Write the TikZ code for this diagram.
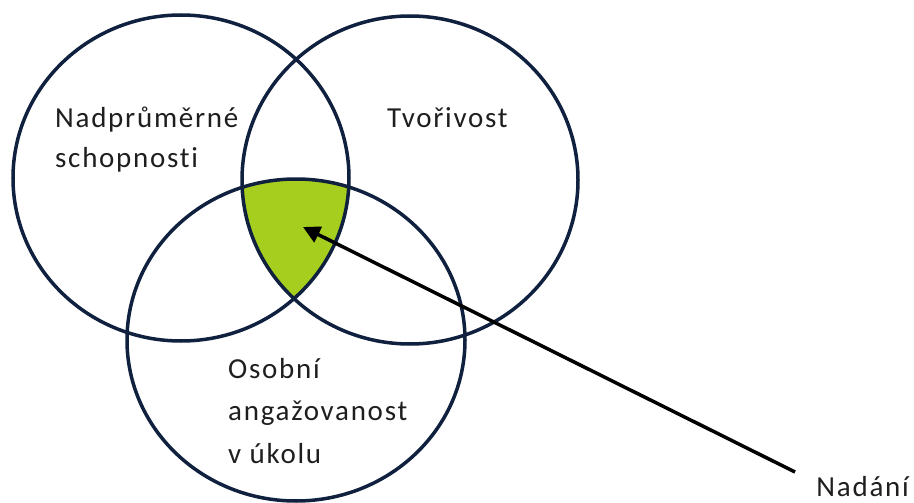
\documentclass[tikz,border=0pt]{standalone}
\usepackage{fontspec}
\setmainfont{Carlito}[LetterSpace=6, Ligatures=NoCommon]
\usetikzlibrary{arrows.meta}
\definecolor{ringblue}{RGB}{16,33,63}
\definecolor{giftgreen}{RGB}{166,206,30}
\definecolor{inkgray}{RGB}{30,30,30}
\tikzset{
  ring/.style={draw=ringblue, line width=3.5pt},
  vtext/.style={anchor=base west, inner sep=0pt, font=\fontsize{29}{40}\selectfont, text=inkgray},
  pointer/.style={draw=black, line width=3.5pt, -{Triangle[length=17pt,width=17pt]}}
}
\begin{document}
\begin{tikzpicture}[x=1pt,y=-1pt]
\useasboundingbox (0,0) rectangle (914,503);
\coordinate (cL) at (181,178);
\coordinate (cR) at (410,180);
\coordinate (cB) at (296,340);
\begin{scope}
  \clip (cL) ellipse [x radius=168pt, y radius=163pt];
  \clip (cR) ellipse [x radius=168pt, y radius=164pt];
  \fill[giftgreen] (cB) ellipse [x radius=169pt, y radius=161pt];
\end{scope}
\draw[ring] (cL) ellipse [x radius=168pt, y radius=163pt];
\draw[ring] (cR) ellipse [x radius=168pt, y radius=164pt];
\draw[ring] (cB) ellipse [x radius=169pt, y radius=161pt];
\node[vtext] (abil1) at (55,128) {Nadprůměrné};
\node[vtext] (abil2) at (55,167) {schopnosti};
\node[vtext] (creat) at (387,128) {Tvořivost};
\node[vtext] (task1) at (228,378) {Osobní};
\node[vtext] (task2) at (228,420) {angažovanost};
\node[vtext] (task3) at (228,463) {v úkolu};
\node[vtext, anchor=base east] (gift) at (909,496) {Nadání};
\coordinate (arrowstart) at (795,472);
\coordinate (tip) at (303,227);
\draw[pointer] (arrowstart) -- (tip);
\end{tikzpicture}
\end{document}
